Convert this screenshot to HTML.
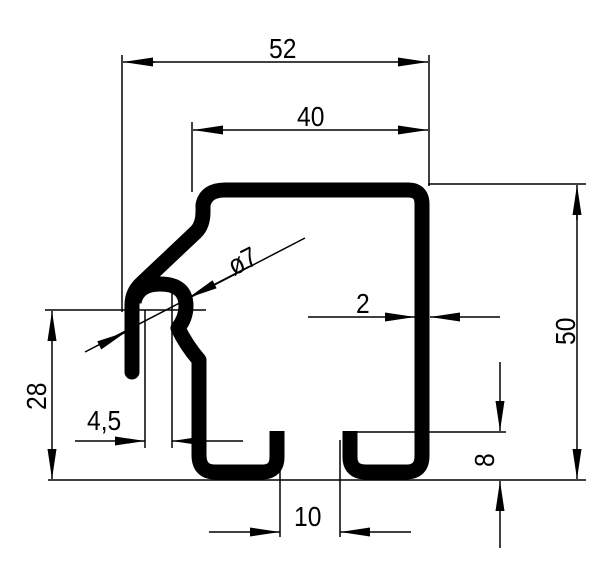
<!DOCTYPE html>
<html><head><meta charset="utf-8"><style>
html,body{margin:0;padding:0;background:#fff;}
svg{display:block;}
text{font-family:"Liberation Sans",sans-serif;font-size:28px;fill:#000;}
</style></head><body>
<svg width="614" height="577" viewBox="0 0 614 577" xmlns="http://www.w3.org/2000/svg">
<defs>
<marker id="a" markerUnits="userSpaceOnUse" markerWidth="32" markerHeight="12" refX="30" refY="5.5" orient="auto">
<polygon points="0,1 30,5.5 0,10" fill="#000"/>
</marker>
</defs>
<g stroke="#000" stroke-width="1.5" fill="none">
<line x1="122" y1="55" x2="122" y2="312"/>
<line x1="429" y1="55" x2="429" y2="186"/>
<line x1="155" y1="62" x2="123" y2="62" marker-end="url(#a)"/>
<line x1="150" y1="62" x2="428" y2="62" marker-end="url(#a)"/>
<line x1="192" y1="122" x2="192" y2="192"/>
<line x1="220" y1="130" x2="193" y2="130" marker-end="url(#a)"/>
<line x1="215" y1="130" x2="428" y2="130" marker-end="url(#a)"/>
<line x1="428" y1="184" x2="586" y2="184"/>
<line x1="48" y1="480" x2="586" y2="480"/>
<line x1="577" y1="220" x2="577" y2="185" marker-end="url(#a)"/>
<line x1="577" y1="215" x2="577" y2="479" marker-end="url(#a)"/>
<line x1="45" y1="310" x2="206" y2="310"/>
<line x1="52" y1="340" x2="52" y2="311" marker-end="url(#a)"/>
<line x1="52" y1="335" x2="52" y2="479" marker-end="url(#a)"/>
<line x1="145" y1="310" x2="145" y2="448"/>
<line x1="172" y1="280" x2="172" y2="448"/>
<line x1="75" y1="441" x2="145" y2="441" marker-end="url(#a)"/>
<line x1="243" y1="441" x2="172" y2="441" marker-end="url(#a)"/>
<line x1="85" y1="352" x2="305" y2="238"/>
<line x1="100" y1="345" x2="126" y2="332" marker-end="url(#a)"/>
<line x1="250" y1="266" x2="188" y2="298" marker-end="url(#a)"/>
<line x1="308" y1="317" x2="415" y2="317" marker-end="url(#a)"/>
<line x1="500" y1="317" x2="430" y2="317" marker-end="url(#a)"/>
<line x1="355" y1="432" x2="506" y2="432"/>
<line x1="500" y1="362" x2="500" y2="431" marker-end="url(#a)"/>
<line x1="500" y1="548" x2="500" y2="481" marker-end="url(#a)"/>
<line x1="280" y1="440" x2="280" y2="537"/>
<line x1="340" y1="440" x2="340" y2="537"/>
<line x1="209" y1="532" x2="280" y2="532" marker-end="url(#a)"/>
<line x1="411" y1="532" x2="340" y2="532" marker-end="url(#a)"/>
</g>
<g stroke="#000" stroke-width="15" fill="none" stroke-linejoin="round">
<path d="M132,372 L132,305 Q132,292 142,283 L196,232 Q203,225 203,212 L203,205 Q206,190 225,190 L408,190 Q422,190 422,204 L422,456 Q422,472 406,472 L366,472 Q350,472 350,457 L350,431"/>
<path d="M134,302 Q138,284 160,284 Q186,284 186,306 Q186,318 178,328 Q186,345 199,360 L199,455 Q199,472 215,472 L262,472 Q277,472 277,457 L277,431"/>
</g>
<circle cx="132" cy="372" r="7.5"/>
<text transform="translate(269,58) scale(0.88,1)">52</text>
<text transform="translate(297,126) scale(0.88,1)">40</text>
<text transform="translate(356,313) scale(0.88,1)">2</text>
<text transform="translate(294,526) scale(0.88,1)">10</text>
<text transform="translate(87,430) scale(0.88,1)">4,5</text>
<text transform="translate(46,410) rotate(-90) scale(0.88,1)">28</text>
<text transform="translate(575,345) rotate(-90) scale(0.88,1)">50</text>
<text transform="translate(494,467) rotate(-90) scale(0.88,1)">8</text>
<text transform="translate(234,276) rotate(-27) scale(0.88,1)">ø7</text>
</svg>
</body></html>
